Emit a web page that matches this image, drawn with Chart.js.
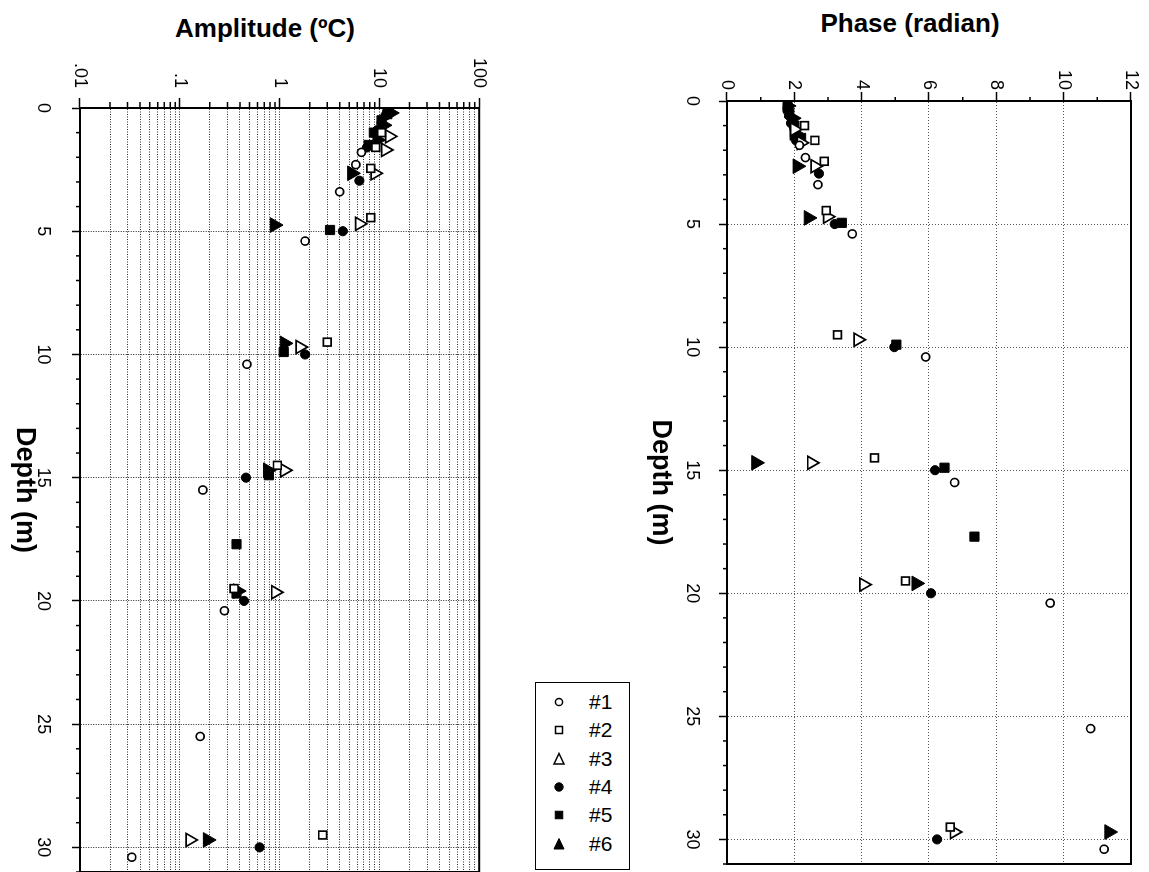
<!DOCTYPE html>
<html>
<head>
<meta charset="utf-8">
<title>Amplitude and phase versus depth</title>
<script src="https://cdn.jsdelivr.net/npm/chart.js@4.4.1/dist/chart.umd.min.js"></script>
<style>
  html, body { margin: 0; padding: 0; background: #fff; }
  body { width: 1149px; height: 872px; position: relative; overflow: hidden;
         font-family: 'Liberation Sans', Arial, sans-serif; color: #000; }
  .panel { position: absolute; transform-origin: 0 0; }
  .panel canvas { display: block; }
  .title { position: absolute; font-weight: bold; font-size: 26px; line-height: 26px;
           white-space: nowrap; transform: translateX(-50%); }
  #legend { position: absolute; left: 535px; top: 682px; width: 95px; height: 188px;
            box-sizing: border-box; border: 1.5px solid #000; background: #fff; z-index: 5; }
  .lg-row { position: absolute; left: 0; width: 100%; height: 24px; }
  .lg-row svg { position: absolute; left: 15px; top: 4px; }
  .lg-row span { position: absolute; left: 53px; top: 0; font-size: 21px; line-height: 24px; }
</style>
</head>
<body>
<div class="title" style="left:265px; top:15px;">Amplitude (ºC)</div>
<div class="title" style="left:910px; top:10px;">Phase (radian)</div>

<div class="panel" id="ampPanel"><canvas id="ampChart"></canvas></div>
<div class="panel" id="phasePanel"><canvas id="phaseChart"></canvas></div>
<div id="legend"></div>

<script>
// ---- data: one entry per station, depth (m) with amplitude (ºC) and phase (radian) ----
const seriesNames = ['#1', '#2', '#3', '#4', '#5', '#6'];

const depth1 = [1.8, 2.3, 3.4, 5.4, 10.4, 15.5, 20.4, 25.5, 30.4];
const amp1   = [6.6, 5.8, 4.0, 1.8, 0.47, 0.17, 0.28, 0.16, 0.033];
const phase1 = [2.15, 2.33, 2.7, 3.72, 5.9, 6.76, 9.6, 10.8, 11.2];

const depth2 = [1.0, 1.6, 2.45, 4.45, 9.5, 14.5, 19.5, 29.5];
const amp2   = [10.5, 9.2, 8.2, 8.2, 3.0, 0.95, 0.35, 2.7];
const phase2 = [2.3, 2.61, 2.89, 2.95, 3.28, 4.38, 5.3, 6.63];

const depth3 = [1.15, 1.7, 2.65, 4.7, 9.7, 14.7, 19.65, 29.7];
const amp3   = [12.6, 11.5, 9.0, 6.3, 1.6, 1.12, 0.91, 0.126];
const phase3 = [2.0, 2.2, 2.61, 2.98, 3.89, 2.51, 4.06, 6.75];

const depth4 = [0.3, 0.6, 0.9, 1.6, 2.95, 5.0, 10.0, 15.0, 20.0, 30.0];
const amp4   = [11.5, 10.5, 9.5, 7.5, 6.3, 4.3, 1.8, 0.46, 0.44, 0.63];
const phase4 = [1.8, 1.85, 1.9, 2.05, 2.73, 3.2, 4.97, 6.18, 6.06, 6.24];

const depth5 = [0.25, 0.5, 1.0, 1.5, 4.95, 9.9, 14.9, 17.7, 19.7];
const amp5   = [12.0, 10.5, 8.8, 7.8, 3.2, 1.1, 0.78, 0.37, 0.37];
const phase5 = [1.8, 1.85, 2.0, 2.2, 3.41, 5.03, 6.46, 7.35, null];

const depth6 = [0.2, 0.7, 1.3, 2.65, 4.75, 9.55, 14.7, 19.6, 29.7];
const amp6   = [13.0, 11.0, 9.5, 5.3, 0.89, 1.12, 0.76, 0.38, 0.19];
const phase6 = [1.8, 1.95, 2.0, 2.09, 2.42, null, 0.86, 5.62, 11.35];

// ---- axis ticks ----
const depthTickLabels = [0, 5, 10, 15, 20, 25, 30];
const amplitudeTickValues = [0.01, 0.1, 1, 10, 100];
const amplitudeTickLabels = ['.01', '.1', '1', '10', '100'];
const phaseTickLabels = [0, 2, 4, 6, 8, 10, 12];

const depths = [depth1, depth2, depth3, depth4, depth5, depth6];
const amplitudes = [amp1, amp2, amp3, amp4, amp5, amp6];
const phases = [phase1, phase2, phase3, phase4, phase5, phase6];

// ---- marker look for each station ----
const markerStyles = [
  { pointStyle: 'circle',   filled: false, radius: 4 },
  { pointStyle: 'rect',     filled: false, radius: 5.5 },
  { pointStyle: 'triangle', filled: false, radius: 7.5 },
  { pointStyle: 'circle',   filled: true,  radius: 4.6 },
  { pointStyle: 'rect',     filled: true,  radius: 6.5 },
  { pointStyle: 'triangle', filled: true,  radius: 8.5 }
];

Chart.defaults.font.family = "'Liberation Sans', Arial, sans-serif";
Chart.defaults.color = '#000';

// integer steps used for the minor depth / phase ticks
const depthSteps = Array.from({ length: 32 }, (_, i) => i);
const phaseSteps = Array.from({ length: 13 }, (_, i) => i);
// 1..9 per decade for the log amplitude axis
const amplitudeSteps = [];
amplitudeTickValues.forEach((dec, k) => {
  const top = k === amplitudeTickValues.length - 1 ? 1 : 9;
  for (let m = 1; m <= top; m++) amplitudeSteps.push(Number((m * dec).toPrecision(3)));
});

const isDecade = v => amplitudeTickValues.some(d => Math.abs(v - d) / d < 1e-6);
const decadeLabel = v => {
  const i = amplitudeTickValues.findIndex(d => Math.abs(v - d) / d < 1e-6);
  return i >= 0 ? amplitudeTickLabels[i] : '';
};
const isDepthMajor = v => depthTickLabels.includes(v);
const isPhaseMajor = v => phaseTickLabels.includes(v);

function makeDatasets(values) {
  return seriesNames.map((name, i) => {
    const st = markerStyles[i];
    return {
      label: name,
      data: depths[i].map((d, j) => ({ x: d, y: values[i][j] })),
      pointStyle: st.pointStyle,
      pointRadius: st.radius,
      pointHoverRadius: st.radius,
      pointBackgroundColor: st.filled ? '#000' : '#fff',
      pointBorderColor: '#000',
      pointBorderWidth: st.filled ? 1 : 1.7,
      showLine: false
    };
  });
}

// short minor tick marks outside the plot frame
const minorTickPlugin = {
  id: 'minorTicks',
  afterDraw(chart, args, opts) {
    const { ctx, chartArea: a, scales } = chart;
    ctx.save();
    ctx.strokeStyle = '#000';
    ctx.lineWidth = 1.5;
    ctx.beginPath();
    opts.x.values.forEach(v => {
      const px = scales.x.getPixelForValue(v);
      ctx.moveTo(px, a.bottom);
      ctx.lineTo(px, a.bottom + opts.x.length);
    });
    opts.y.values.forEach(v => {
      const py = scales.y.getPixelForValue(v);
      ctx.moveTo(a.left, py);
      ctx.lineTo(a.left - opts.y.length, py);
    });
    ctx.stroke();
    ctx.restore();
  }
};

// closed frame round the plot area
const framePlugin = {
  id: 'plotFrame',
  beforeDatasetsDraw(chart) {
    const { ctx, chartArea: a } = chart;
    ctx.save();
    ctx.strokeStyle = '#000';
    ctx.lineWidth = 2;
    ctx.strokeRect(a.left, a.top, a.right - a.left, a.bottom - a.top);
    ctx.restore();
  }
};

// each panel is laid out with depth along x, then turned a quarter turn clockwise
function placePanel(el, left, top, w, h) {
  el.style.left = left + 'px';
  el.style.top = top + 'px';
  el.style.width = w + 'px';
  el.style.height = h + 'px';
  el.style.transform = 'translate(' + h + 'px, 0) rotate(90deg)';
}

function depthScale(cfg) {
  return {
    type: 'linear', position: 'bottom', min: 0, max: 31,
    afterBuildTicks: ax => { ax.ticks = depthSteps.map(v => ({ value: v })); },
    afterFit: ax => { ax.height = cfg.xHeight; },
    ticks: {
      autoSkip: false, maxRotation: 0, minRotation: 0, padding: cfg.xPad,
      font: { size: 18 },
      callback: v => (isDepthMajor(v) ? String(v) : '')
    },
    grid: {
      color: c => (c.tick && isDepthMajor(c.tick.value) ? cfg.gridColor : 'rgba(0,0,0,0)'),
      lineWidth: 1,
      tickLength: 8, tickWidth: 1.5, tickBorderDash: [],
      tickColor: c => (c.tick && isDepthMajor(c.tick.value) ? '#000' : 'rgba(0,0,0,0)')
    },
    border: { display: true, color: '#000', width: 2, dash: cfg.dash },
    title: {
      display: true, text: 'Depth (m)',
      font: { size: 27, weight: 'bold' },
      padding: { top: 0, bottom: cfg.titlePad }
    }
  };
}

const ampCfg = { xHeight: 80, xPad: 18, titlePad: 8, gridColor: '#222', dash: [1, 1.5] };
const ampCanvas = document.getElementById('ampChart');
ampCanvas.width = 890; ampCanvas.height = 500;
placePanel(document.getElementById('ampPanel'), 0, 0, 890, 500);

new Chart(ampCanvas, {
  type: 'scatter',
  data: { datasets: makeDatasets(amplitudes) },
  options: {
    responsive: false, animation: false, devicePixelRatio: 1,
    layout: { padding: { top: 18, right: 13, left: 0, bottom: 0 } },
    plugins: {
      legend: { display: false }, tooltip: { enabled: false },
      minorTicks: {
        x: { values: depthSteps.filter(v => !isDepthMajor(v)), length: 4 },
        y: { values: amplitudeSteps.filter(v => !isDecade(v)), length: 6 }
      }
    },
    scales: {
      x: depthScale(ampCfg),
      y: {
        type: 'logarithmic', position: 'left', min: 0.01, max: 100,
        afterBuildTicks: ax => { ax.ticks = amplitudeSteps.map(v => ({ value: v })); },
        afterFit: ax => { ax.width = 108; },
        ticks: {
          autoSkip: false, padding: 10, font: { size: 18 },
          callback: v => decadeLabel(v)
        },
        grid: {
          color: '#2a2a2a', lineWidth: 1,
          tickLength: 10, tickWidth: 1.5, tickBorderDash: [],
          tickColor: c => (c.tick && isDecade(c.tick.value) ? '#000' : 'rgba(0,0,0,0)')
        },
        border: { display: true, color: '#000', width: 2, dash: [1, 1.5] }
      }
    }
  },
  plugins: [framePlugin, minorTickPlugin]
});

const phaseCfg = { xHeight: 126, xPad: 16, titlePad: 43, gridColor: '#555', dash: [1, 2] };
const phaseCanvas = document.getElementById('phaseChart');
phaseCanvas.width = 880; phaseCanvas.height = 548;
placePanel(document.getElementById('phasePanel'), 601, 0, 880, 548);

new Chart(phaseCanvas, {
  type: 'scatter',
  data: { datasets: makeDatasets(phases) },
  options: {
    responsive: false, animation: false, devicePixelRatio: 1,
    layout: { padding: { top: 18, right: 12, left: 0, bottom: 0 } },
    plugins: {
      legend: { display: false }, tooltip: { enabled: false },
      minorTicks: {
        x: { values: depthSteps.filter(v => !isDepthMajor(v)), length: 4 },
        y: { values: phaseSteps.filter(v => !isPhaseMajor(v)), length: 4 }
      }
    },
    scales: {
      x: depthScale(phaseCfg),
      y: {
        type: 'linear', position: 'left', min: 0, max: 12,
        afterBuildTicks: ax => { ax.ticks = phaseSteps.map(v => ({ value: v })); },
        afterFit: ax => { ax.width = 101; },
        ticks: {
          autoSkip: false, padding: 2, font: { size: 18 },
          callback: v => (isPhaseMajor(v) ? String(v) : '')
        },
        grid: {
          color: c => (c.tick && isPhaseMajor(c.tick.value) ? '#555' : 'rgba(0,0,0,0)'),
          lineWidth: 1,
          tickLength: 9, tickWidth: 1.5, tickBorderDash: [],
          tickColor: c => (c.tick && isPhaseMajor(c.tick.value) ? '#000' : 'rgba(0,0,0,0)')
        },
        border: { display: true, color: '#000', width: 2, dash: [1, 2] }
      }
    }
  },
  plugins: [framePlugin, minorTickPlugin]
});

// legend with the same marker shapes, drawn upright
function markerSvg(st) {
  const fill = st.filled ? '#000' : '#fff';
  const sw = st.filled ? 1 : 1.5;
  let shape;
  if (st.pointStyle === 'circle') {
    shape = '<circle cx="8" cy="8" r="' + (st.filled ? 4.2 : 3.6) + '" fill="' + fill + '" stroke="#000" stroke-width="' + sw + '"/>';
  } else if (st.pointStyle === 'rect') {
    const s = st.filled ? 7.5 : 7;
    shape = '<rect x="' + (8 - s / 2) + '" y="' + (8 - s / 2) + '" width="' + s + '" height="' + s + '" fill="' + fill + '" stroke="#000" stroke-width="' + sw + '"/>';
  } else {
    shape = '<polygon points="8,2.5 13,13 3,13" fill="' + fill + '" stroke="#000" stroke-width="' + sw + '" stroke-linejoin="miter"/>';
  }
  return '<svg width="16" height="16" viewBox="0 0 16 16">' + shape + '</svg>';
}
const legend = document.getElementById('legend');
seriesNames.forEach((name, i) => {
  const row = document.createElement('div');
  row.className = 'lg-row';
  row.style.top = (7 + i * 28.3) + 'px';
  row.innerHTML = markerSvg(markerStyles[i]) + '<span>' + name + '</span>';
  legend.appendChild(row);
});
</script>
</body>
</html>
